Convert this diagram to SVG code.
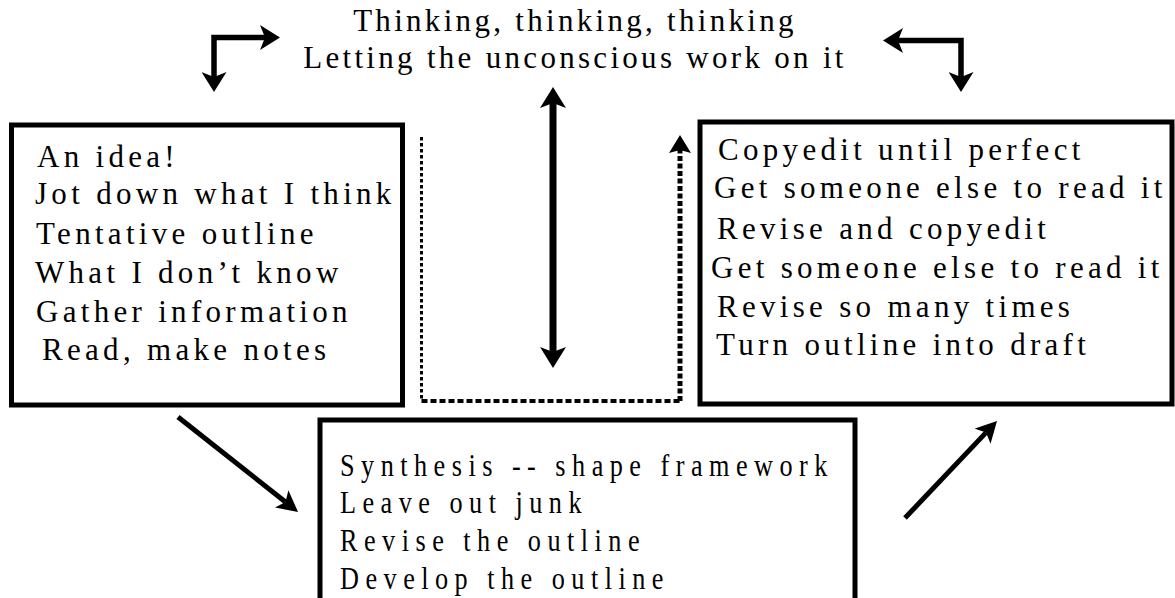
<svg xmlns="http://www.w3.org/2000/svg" width="1175" height="598" viewBox="0 0 1175 598">
<style>
.t{font-family:"Liberation Serif","Times New Roman",serif;font-size:31px;letter-spacing:4.3px;fill:#000}
.tt{letter-spacing:3.3px}
.b{font-family:"Liberation Serif","Times New Roman",serif;font-size:32px;letter-spacing:7.9px;fill:#000}
.box{fill:#fff;stroke:#000;stroke-width:5}
.c{fill:none;stroke:#000}
</style>
<defs>
<marker id="ah" viewBox="0 0 20 25" refX="5" refY="12.5" markerWidth="20" markerHeight="25" markerUnits="userSpaceOnUse" orient="auto-start-reverse">
<path d="M0,0 L20,12.5 L0,25 L5,12.5 z" fill="#000"/>
</marker>
<marker id="ahv" viewBox="0 0 21 26" refX="5" refY="13" markerWidth="21" markerHeight="26" markerUnits="userSpaceOnUse" orient="auto-start-reverse">
<path d="M0,0 L21,13 L0,26 L5,13 z" fill="#000"/>
</marker>
<marker id="ahd" viewBox="0 0 21 22" refX="5" refY="11" markerWidth="21" markerHeight="22" markerUnits="userSpaceOnUse" orient="auto">
<path d="M0,0 L21,11 L0,22 L5,11 z" fill="#000"/>
</marker>
</defs>
<rect width="1175" height="598" fill="#fff"/>
<g id="top">
<text class="t tt" x="575" y="31" text-anchor="middle">Thinking, thinking, thinking</text>
<text class="t tt" x="575" y="68" text-anchor="middle">Letting the unconscious work on it</text>
</g>
<g id="left-box">
<rect class="box" x="11.5" y="125" width="391" height="280"/>
<text class="t" x="37" y="167">An idea!</text>
<text class="t" x="35" y="204">Jot down what I think</text>
<text class="t" x="36" y="244">Tentative outline</text>
<text class="t" x="35" y="283">What I don’t know</text>
<text class="t" x="36" y="322">Gather information</text>
<text class="t" x="42" y="360">Read, make notes</text>
</g>
<g id="right-box">
<rect class="box" x="700" y="122" width="472" height="282"/>
<text class="t" x="718" y="160">Copyedit until perfect</text>
<text class="t" x="714" y="198">Get someone else to read it</text>
<text class="t" x="717" y="239">Revise and copyedit</text>
<text class="t" x="711" y="278">Get someone else to read it</text>
<text class="t" x="717" y="317">Revise so many times</text>
<text class="t" x="716" y="355">Turn outline into draft</text>
</g>
<g id="bottom-box">
<rect class="box" x="320" y="420" width="535" height="200"/>
<g transform="translate(340,0) scale(0.82,1)">
<text class="b" x="0" y="476">Synthesis -- shape framework</text>
<text class="b" x="0" y="513">Leave out junk</text>
<text class="b" x="0" y="551">Revise the outline</text>
<text class="b" x="0" y="589">Develop the outline</text>
</g>
</g>
<g id="connectors">
<path class="c" d="M214,77 L214,37.5 L265,37.5" stroke-width="5.5" marker-start="url(#ah)" marker-end="url(#ah)"/>
<path class="c" d="M898,40.5 L961,40.5 L961,77" stroke-width="5.5" marker-start="url(#ah)" marker-end="url(#ah)"/>
<path class="c" d="M553,103 L553,352" stroke-width="7" marker-start="url(#ahv)" marker-end="url(#ahv)"/>
<path class="c" d="M421.5,137 L421.5,401" stroke-width="3" stroke-dasharray="3.5 2.5"/>
<path class="c" d="M421.5,401 L680,401" stroke-width="4" stroke-dasharray="6 3"/>
<path class="c" d="M680,401 L680,150" stroke-width="5" stroke-dasharray="5 2.5"/>
<path d="M680,135 L691,153 L680,150 L669,153 z" fill="#000"/>
<path class="c" d="M178,417 L285.5,502" stroke-width="5" marker-end="url(#ahd)"/>
<path class="c" d="M905,518 L986,432.6" stroke-width="5" marker-end="url(#ahd)"/>
</g>
</svg>
